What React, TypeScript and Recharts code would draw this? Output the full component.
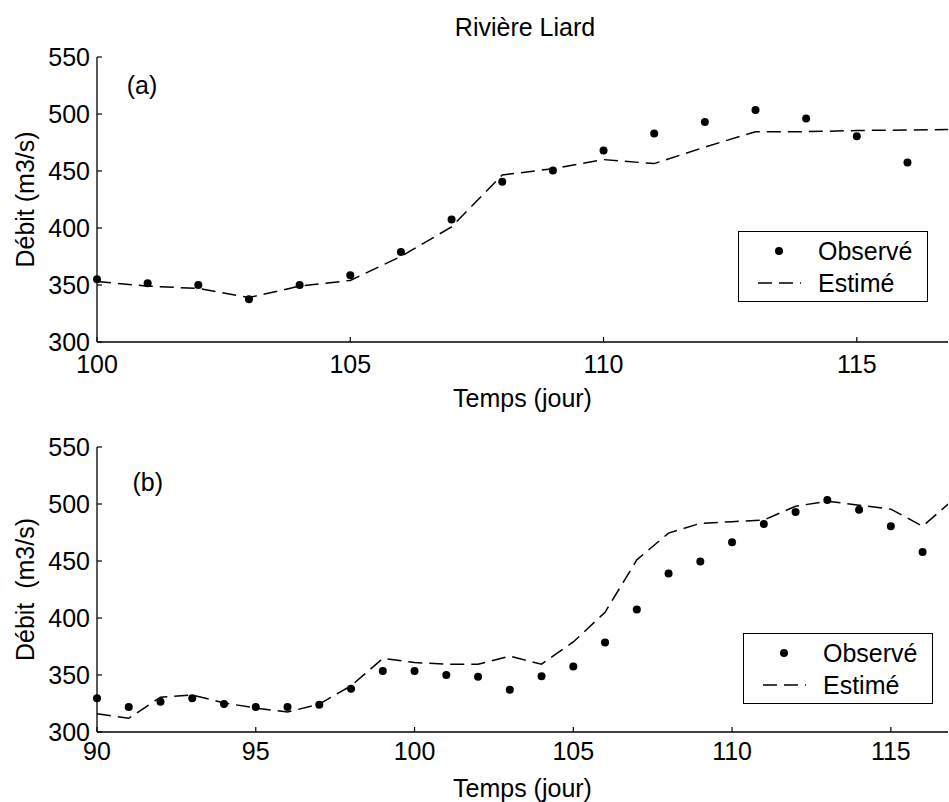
import { ComposedChart, Line, XAxis, YAxis, Legend, ReferenceDot } from 'recharts';

const FONT = '"Liberation Sans", Arial, Helvetica, sans-serif';

// (a) jours 100 à 117
const joursA = [100, 101, 102, 103, 104, 105, 106, 107, 108, 109, 110, 111, 112, 113, 114, 115, 116, 117];
const observeA = [355, 351.5, 350, 337.5, 350, 358.5, 379, 407.5, 440.5, 450.5, 468, 483, 493, 503.5, 496, 480.5, 457.5, null];
const estimeA = [353, 349, 347, 339, 349, 354, 375, 401, 446.5, 452, 460, 456.5, 471, 484.5, 484.5, 485.5, 486, 486.5];

// (b) jours 90 à 117
const joursB = [90, 91, 92, 93, 94, 95, 96, 97, 98, 99, 100, 101, 102, 103, 104, 105, 106, 107, 108, 109, 110, 111, 112, 113, 114, 115, 116, 117];
const observeB = [329.5, 322, 326.5, 329.5, 324.5, 322, 322, 324, 338, 353.5, 353.5, 350, 348.5, 337, 349, 357.5, 378.5, 407.5, 439, 449.5, 466.5, 482.5, 493, 503.5, 495, 480.5, 458, null];
const estimeB = [316, 312, 330.5, 332.5, 325.5, 321, 317.5, 324.5, 340.5, 364.5, 361, 359.5, 359.5, 366.5, 359.5, 379, 405, 451, 474.5, 483, 484.5, 486, 498, 502.5, 499, 495.5, 480.5, 504.5];

const ticksA = [100, 105, 110, 115];
const ticksB = [90, 95, 100, 105, 110, 115];
const ticksY = [300, 350, 400, 450, 500, 550];

const dataA = joursA.map((jour, i) => ({ jour, obs: observeA[i], est: estimeA[i] }));
const dataB = joursB.map((jour, i) => ({ jour, obs: observeB[i], est: estimeB[i] }));

const DASH = '14 7';
const LEGEND_ORDER = ['obs', 'est'];

function LegendBox({ payload }: any) {
  const items = [...(payload ?? [])].sort(
    (a: any, b: any) => LEGEND_ORDER.indexOf(a.dataKey) - LEGEND_ORDER.indexOf(b.dataKey),
  );
  return (
    <div
      style={{
        width: 188,
        height: 69,
        border: '1px solid #000',
        background: '#fff',
        position: 'relative',
        fontFamily: FONT,
        fontSize: 25,
        color: '#000',
      }}
    >
      {items.map((p: any, i: number) => (
        <div key={p.value} style={{ position: 'absolute', left: 0, top: 3 + i * 32, height: 32, width: 188 }}>
          <svg width={75} height={32} style={{ position: 'absolute', left: 0, top: 0 }}>
            {p.dataKey === 'obs' ? (
              <circle cx={40} cy={16} r={4} fill="#000" />
            ) : (
              <line x1={19} x2={62} y1={16} y2={16} stroke="#000" strokeWidth={1.5} strokeDasharray={DASH} />
            )}
          </svg>
          <span style={{ position: 'absolute', left: 79, top: 0, lineHeight: '32px' }}>{p.value}</span>
        </div>
      ))}
    </div>
  );
}

type PanelProps = {
  data: any[];
  domain: [number, number];
  ticks: number[];
  tag: string;
  tagX: number;
  tagY: number;
  yLabel: string;
  xTickMargin: number;
  legendTop: number;
  legendLeft: number;
};

function Panel({ data, domain, ticks, tag, tagX, tagY, yLabel, xTickMargin, legendTop, legendLeft }: PanelProps) {
  const axisLine = { stroke: '#000', strokeWidth: 1.3 };
  const tickLine = { stroke: '#000', strokeWidth: 1.2 };
  const tickStyle = { fontSize: 25, fill: '#000', fontFamily: FONT };
  return (
    <ComposedChart width={949} height={412} data={data} margin={{ top: 57, right: 1, bottom: 0, left: 0 }}>
      <XAxis
        dataKey="jour"
        type="number"
        domain={domain}
        ticks={ticks}
        allowDataOverflow
        height={70}
        axisLine={axisLine}
        tickLine={tickLine}
        tickSize={-5}
        tickMargin={xTickMargin}
        tick={tickStyle}
        interval={0}
        label={{ value: 'Temps (jour)', position: 'insideBottom', offset: 5, fontSize: 25, fill: '#000', fontFamily: FONT }}
      />
      <XAxis
        xAxisId="haut"
        orientation="top"
        type="number"
        domain={domain}
        ticks={ticks}
        allowDataOverflow
        height={0}
        axisLine={axisLine}
        tickLine={tickLine}
        tickSize={-5}
        tick={false}
      />
      <YAxis
        type="number"
        domain={[300, 550]}
        ticks={ticksY}
        allowDataOverflow
        width={97}
        axisLine={axisLine}
        tickLine={tickLine}
        tickSize={-5}
        tickMargin={12}
        tick={tickStyle}
        interval={0}
        label={{
          value: yLabel,
          angle: -90,
          position: 'insideLeft',
          offset: 25,
          fontSize: 25,
          fill: '#000',
          fontFamily: FONT,
          style: { textAnchor: 'middle' },
        }}
      />
      <YAxis
        yAxisId="droite"
        orientation="right"
        type="number"
        domain={[300, 550]}
        ticks={ticksY}
        allowDataOverflow
        width={0}
        axisLine={axisLine}
        tickLine={tickLine}
        tickSize={-5}
        tick={false}
      />
      <Line
        dataKey="obs"
        name="Observé"
        stroke="none"
        dot={{ r: 4, fill: '#000', stroke: '#000', strokeWidth: 0, clipDot: false }}
        activeDot={false}
        isAnimationActive={false}
      />
      <Line
        dataKey="est"
        name="Estimé"
        type="linear"
        stroke="#000"
        strokeWidth={1.5}
        strokeDasharray={DASH}
        dot={false}
        activeDot={false}
        isAnimationActive={false}
      />
      <ReferenceDot
        x={tagX}
        y={tagY}
        r={0}
        fill="none"
        stroke="none"
        ifOverflow="visible"
        label={{ value: tag, position: 'center', fontSize: 25, fill: '#000', fontFamily: FONT }}
      />
      <Legend
        verticalAlign="middle"
        align="center"
        content={(props: any) => <LegendBox {...props} />}
        wrapperStyle={{ left: legendLeft, top: legendTop, width: 190, height: 71 }}
      />
    </ComposedChart>
  );
}

export default function App() {
  return (
    <div style={{ position: 'absolute', left: 0, top: 0, width: 949, height: 802, background: '#fff', fontFamily: FONT }}>
      <div
        style={{
          position: 'absolute',
          left: 425,
          width: 200,
          top: 12,
          textAlign: 'center',
          fontSize: 25,
          lineHeight: '30px',
          color: '#000',
        }}
      >
        Rivière Liard
      </div>
      <div style={{ position: 'absolute', left: 0, top: 0 }}>
        <Panel
          data={dataA}
          domain={[100, 116.8]}
          ticks={ticksA}
          tag="(a)"
          tagX={100.89}
          tagY={525.4}
          yLabel="Débit (m3/s)"
          xTickMargin={18}
          legendLeft={738}
          legendTop={231}
        />
      </div>
      <div style={{ position: 'absolute', left: 0, top: 390 }}>
        <Panel
          data={dataB}
          domain={[90, 116.8]}
          ticks={ticksB}
          tag="(b)"
          tagX={91.6}
          tagY={519.3}
          yLabel={'Débit\u00a0 (m3/s)'}
          xTickMargin={15}
          legendLeft={743}
          legendTop={243}
        />
      </div>
    </div>
  );
}
